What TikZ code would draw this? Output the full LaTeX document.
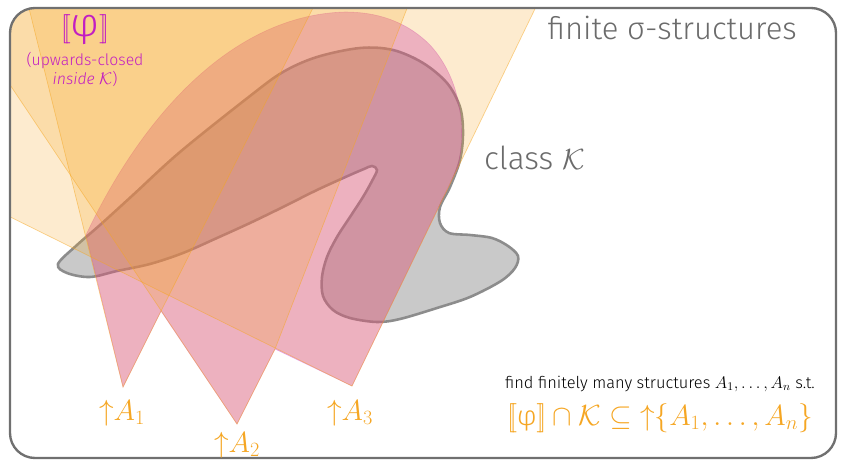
\documentclass[tikz,border=0pt]{standalone}
\usepackage{amsmath}
\usepackage{fontspec}
\setmainfont{Fira Sans}[UprightFont=* Light, ItalicFont=* Light Italic]

\definecolor{upcol}{HTML}{F5A623}
\definecolor{phicol}{HTML}{C21EC2}
\definecolor{Kfill}{HTML}{C9C9C9}
\definecolor{Kline}{HTML}{8C8C8C}
\definecolor{framecol}{HTML}{707070}
\definecolor{txtgray}{HTML}{6B6B6B}

\tikzset{
  upcone/.style={fill=upcol, fill opacity=0.22, draw=upcol, draw opacity=0.5, line width=0.6pt},
  phiset/.style={fill=phicol, fill opacity=0.33, draw=phicol, draw opacity=0.3, line width=0.5pt},
  classK/.style={fill=Kfill, draw=Kline, line width=2.2pt},
  uplabel/.style={text=upcol, font=\fontsize{24}{28}\selectfont},
}

\begin{document}
\begin{tikzpicture}[x=0.03cm, y=-0.03cm]
  \useasboundingbox (0,0) rectangle (841,460);

  \coordinate (A1) at (123,387);
  \coordinate (A2) at (237,424);
  \coordinate (A3) at (352,386);

  % class K
  \draw[classK] plot[smooth cycle, tension=0.55] coordinates {
    (58,264) (77,245) (100,225) (133,195) (180,152) (250,96) (283,72) (317,57)
    (360,48) (393,50) (423,63) (447,83) (460,107) (463,133) (460,160) (450,187)
    (440,207) (440,223) (449,233) (470,235) (492,238) (508,246) (518,256)
    (515,268) (501,281) (470,297) (437,308) (400,319) (377,322) (350,318)
    (333,310) (323,296) (322,277) (327,257) (337,237) (350,217) (363,197)
    (372,181) (377,170) (372,166) (364,169) (350,175) (317,190) (283,207)
    (250,223) (217,238) (183,253) (150,264) (117,271) (90,277) (67,273)};

  % [[phi]]
  \draw[phiset] (A1) -- (161,311) -- (A2) -- (275,349) -- (A3) -- (458,167)
    .. controls (466,130) and (462,80) .. (430,45)
    .. controls (405,20) and (375,12) .. (345,12)
    .. controls (230,15) and (140,120) .. (86,235) -- cycle;

  % upward closures
  \begin{scope}
    \clip[rounded corners=0.75cm] (10,8) rectangle (836,458);
    \draw[upcone] (A1) -- (22,-20) -- (327,-20) -- cycle;
    \draw[upcone] (A2) -- (-20,40) -- (-20,-20) -- (418,-20) -- (275,349) -- cycle;
    \draw[upcone] (A3) -- (-20,202) -- (-20,-20) -- (549,-20) -- cycle;
  \end{scope}

  \draw[framecol, line width=2pt, rounded corners=0.75cm] (10,8) rectangle (836,458);

  \node[anchor=base east, text=txtgray, font=\fontsize{26.5}{30}\selectfont] (title) at (801,40) {finite σ-structures};
  \node[anchor=base west, text=txtgray, font=\fontsize{27}{30}\selectfont] (classlbl) at (480,170) {class $\mathcal{K}$};

  \node[text=phicol, font=\fontsize{34}{38}\selectfont] (phi) at (85,30) {$[\![\text{φ}]\!]$};
  \node[text=phicol, font=\fontsize{13.5}{16.5}\selectfont, align=center, anchor=north] (phinote) at (85,48)
    {(upwards-closed\\ \textit{inside} $\mathcal{K}$)};

  \node[uplabel] (lA1) at (122,413) {${\uparrow}A_1$};
  \node[uplabel] (lA2) at (237,445) {${\uparrow}A_2$};
  \node[uplabel] (lA3) at (350,413) {${\uparrow}A_3$};

  \node[anchor=base, font=\fontsize{14}{16}\selectfont] (task) at (660,388)
    {find finitely many structures $A_1,\ldots,A_n$ s.t.};
  \node[text=upcol, font=\fontsize{23.5}{27}\selectfont] (claim) at (660,418)
    {$[\![\text{φ}]\!] \cap \mathcal{K} \subseteq {\uparrow}\{A_1,\ldots,A_n\}$};
\end{tikzpicture}
\end{document}
